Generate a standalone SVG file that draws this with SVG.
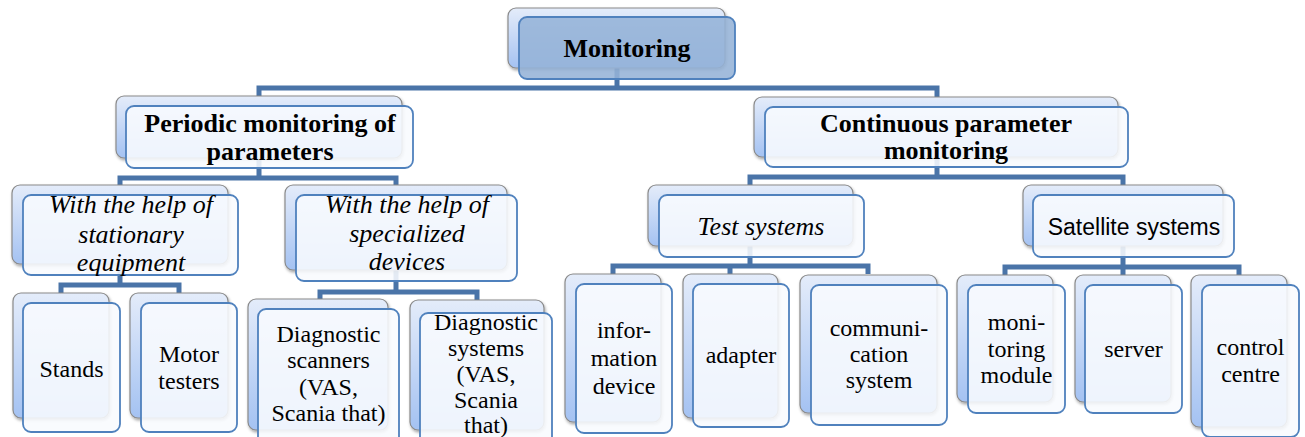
<svg xmlns="http://www.w3.org/2000/svg" width="1305" height="437" viewBox="0 0 1305 437">
<defs>
<linearGradient id="bg" x1="0" y1="0" x2="0" y2="1">
<stop offset="0" stop-color="#e4ecfa"/>
<stop offset="1" stop-color="#a4c2f2"/>
</linearGradient>
<filter id="sh" x="-10%" y="-10%" width="130%" height="130%">
<feDropShadow dx="1" dy="2" stdDeviation="1.8" flood-color="#000" flood-opacity="0.35"/>
</filter>
</defs>
<style>
.back{fill:url(#bg);stroke:#8a8a8a;stroke-width:1.2;filter:url(#sh)}
.front{fill:#f8fafe;fill-opacity:0.88;stroke:#4f81bd;stroke-width:1.8}
.top{fill:#95b3d7;fill-opacity:0.88;stroke:#4f81bd;stroke-width:1.8}
.conn{fill:none;stroke:#4a74a8;stroke-width:5;stroke-linejoin:miter}
text{font-family:'Liberation Serif',serif;fill:#000;text-anchor:middle}
.b{font-weight:bold;font-size:26px}
.i{font-style:italic;font-size:26px}
.l{font-size:24px}
.s{font-family:'Liberation Sans',sans-serif;font-size:23px}
</style>
<g id="connectors">
<path class="conn" d="M617,68 V88 M259,97 V88 H937 V97"/>
<path class="conn" d="M259,158 V178 M120,185 V178 H396 V185"/>
<path class="conn" d="M937,155 V177 M750,185 V177 H1123 V185"/>
<path class="conn" d="M120,264 V285 M61,293 V285 H179 V293"/>
<path class="conn" d="M396,270 V292 M320,299 V292 H477 V300"/>
<path class="conn" d="M750,246 V266 M613,274 V266 H868 V274 M730,266 V274"/>
<path class="conn" d="M1123,246 V267 M1005,275 V267 H1239 V275 M1123,267 V275"/>
</g>
<g id="n-monitoring">
<rect class="back" x="508" y="8" width="217" height="60" rx="8"/>
<rect class="top" x="519" y="17" width="216" height="62" rx="8"/>
<text class="b" x="627" y="57">Monitoring</text>
</g>
<g id="n-periodic">
<rect class="back" x="116" y="96" width="286" height="62" rx="8"/>
<rect class="front" x="126" y="106" width="287" height="62" rx="8"/>
<text class="b" x="270" y="132">Periodic monitoring of</text>
<text class="b" x="270" y="160">parameters</text>
</g>
<g id="n-continuous">
<rect class="back" x="754" y="97" width="364" height="60" rx="8"/>
<rect class="front" x="765" y="107" width="363" height="60" rx="8"/>
<text class="b" x="946" y="132">Continuous parameter</text>
<text class="b" x="946" y="159">monitoring</text>
</g>
<g id="n-stationary">
<rect class="back" x="12" y="185" width="216" height="79" rx="8"/>
<rect class="front" x="23" y="195" width="215" height="80" rx="8"/>
<text class="i" x="131" y="213">With the help of</text>
<text class="i" x="131" y="243">stationary</text>
<text class="i" x="131" y="271">equipment</text>
</g>
<g id="n-specialized">
<rect class="back" x="285" y="185" width="222" height="85" rx="8"/>
<rect class="front" x="296" y="195" width="221" height="86" rx="8"/>
<text class="i" x="407" y="213">With the help of</text>
<text class="i" x="407" y="242">specialized</text>
<text class="i" x="407" y="270">devices</text>
</g>
<g id="n-test">
<rect class="back" x="648" y="185" width="205" height="61" rx="8"/>
<rect class="front" x="659" y="195" width="205" height="62" rx="8"/>
<text class="i" x="761" y="235">Test systems</text>
</g>
<g id="n-satellite">
<rect class="back" x="1023" y="185" width="200" height="61" rx="8"/>
<rect class="front" x="1033" y="195" width="201" height="62" rx="8"/>
<text class="s" x="1134" y="235">Satellite systems</text>
</g>
<g id="n-stands">
<rect class="back" x="13" y="293" width="96" height="125" rx="8"/>
<rect class="front" x="23" y="303" width="97" height="129" rx="8"/>
<text class="l" x="71.5" y="377">Stands</text>
</g>
<g id="n-motor">
<rect class="back" x="130" y="293" width="98" height="125" rx="8"/>
<rect class="front" x="141" y="303" width="96" height="129" rx="8"/>
<text class="l" x="189" y="362">Motor</text>
<text class="l" x="189" y="389">testers</text>
</g>
<g id="n-scanners">
<rect class="back" x="248" y="299" width="140" height="131" rx="8"/>
<rect class="front" x="258" y="309" width="141" height="136" rx="8"/>
<text class="l" x="328.5" y="342">Diagnostic</text>
<text class="l" x="328.5" y="368">scanners</text>
<text class="l" x="328.5" y="395">(VAS,</text>
<text class="l" x="328.5" y="421">Scania that)</text>
</g>
<g id="n-systems">
<rect class="back" x="410" y="300" width="134" height="130" rx="8"/>
<rect class="front" x="420" y="313" width="132" height="132" rx="8"/>
<text class="l" x="486" y="330">Diagnostic</text>
<text class="l" x="486" y="356">systems</text>
<text class="l" x="486" y="382">(VAS,</text>
<text class="l" x="486" y="408">Scania</text>
<text class="l" x="486" y="433">that)</text>
</g>
<g id="n-information">
<rect class="back" x="565" y="274" width="96" height="148" rx="8"/>
<rect class="front" x="576" y="284" width="96" height="149" rx="8"/>
<text class="l" x="624" y="338">infor-</text>
<text class="l" x="624" y="366">mation</text>
<text class="l" x="624" y="394">device</text>
</g>
<g id="n-adapter">
<rect class="back" x="683" y="274" width="95" height="144" rx="8"/>
<rect class="front" x="693" y="284" width="96" height="143" rx="8"/>
<text class="l" x="741" y="363">adapter</text>
</g>
<g id="n-communication">
<rect class="back" x="800" y="275" width="137" height="138" rx="8"/>
<rect class="front" x="811" y="285" width="136" height="140" rx="8"/>
<text class="l" x="879" y="336">communi-</text>
<text class="l" x="879" y="362">cation</text>
<text class="l" x="879" y="388">system</text>
</g>
<g id="n-module">
<rect class="back" x="957" y="275" width="96" height="127" rx="8"/>
<rect class="front" x="968" y="285" width="97" height="128" rx="8"/>
<text class="l" x="1016.5" y="330">moni-</text>
<text class="l" x="1016.5" y="357">toring</text>
<text class="l" x="1016.5" y="383">module</text>
</g>
<g id="n-server">
<rect class="back" x="1075" y="275" width="96" height="127" rx="8"/>
<rect class="front" x="1085" y="285" width="97" height="128" rx="8"/>
<text class="l" x="1133.5" y="357">server</text>
</g>
<g id="n-control">
<rect class="back" x="1191" y="275" width="96" height="152" rx="8"/>
<rect class="front" x="1202" y="285" width="97" height="152" rx="8"/>
<text class="l" x="1250.5" y="355">control</text>
<text class="l" x="1250.5" y="382">centre</text>
</g>
</svg>
